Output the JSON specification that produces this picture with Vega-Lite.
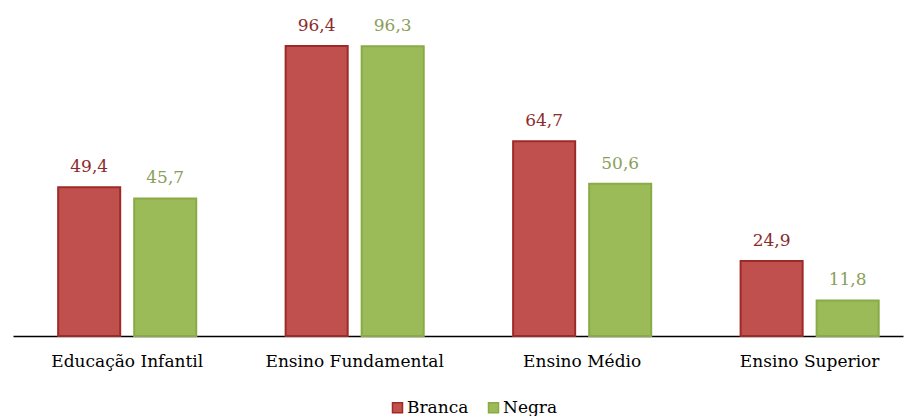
{
  "$schema": "https://vega.github.io/schema/vega-lite/v6.json",
  "width": 890,
  "height": 331,
  "autosize": {"type": "none"},
  "padding": {"left": 13, "top": 5, "right": 9, "bottom": 80},
  "background": "white",
  "data": {"values": [
    {"nivel": "Educação Infantil", "grupo": "Branca", "valor": 49.4, "rotulo": "49,4"},
    {"nivel": "Educação Infantil", "grupo": "Negra", "valor": 45.7, "rotulo": "45,7"},
    {"nivel": "Ensino Fundamental", "grupo": "Branca", "valor": 96.4, "rotulo": "96,4"},
    {"nivel": "Ensino Fundamental", "grupo": "Negra", "valor": 96.3, "rotulo": "96,3"},
    {"nivel": "Ensino Médio", "grupo": "Branca", "valor": 64.7, "rotulo": "64,7"},
    {"nivel": "Ensino Médio", "grupo": "Negra", "valor": 50.6, "rotulo": "50,6"},
    {"nivel": "Ensino Superior", "grupo": "Branca", "valor": 24.9, "rotulo": "24,9"},
    {"nivel": "Ensino Superior", "grupo": "Negra", "valor": 11.8, "rotulo": "11,8"}
  ]},
  "encoding": {
    "x": {
      "field": "nivel", "type": "nominal", "sort": null, "title": null,
      "scale": {"paddingInner": 0.393, "paddingOuter": 0.1527, "align": 0.65},
      "axis": {
        "labelAngle": 0, "ticks": false, "domainColor": "#000000", "domainWidth": 1.5,
        "labelFont": "DejaVu Serif", "labelFontSize": 17, "labelColor": "#000000",
        "labelPadding": 17, "grid": false
      }
    },
    "xOffset": {"field": "grupo", "type": "nominal", "scale": {"paddingInner": 0.184, "paddingOuter": 0}},
    "y": {
      "field": "valor", "type": "quantitative",
      "scale": {"domain": [0, 110], "nice": false},
      "axis": null
    }
  },
  "layer": [
    {
      "mark": {"type": "bar", "strokeWidth": 2},
      "encoding": {
        "color": {
          "field": "grupo", "type": "nominal",
          "scale": {"domain": ["Branca", "Negra"], "range": ["#C0504D", "#9BBB59"]},
          "legend": {
            "orient": "none", "direction": "horizontal", "legendX": 376, "legendY": 394,
            "title": null, "symbolType": "square", "symbolSize": 100,
            "symbolStrokeWidth": 1.5, "labelFont": "DejaVu Serif", "labelFontSize": 17,
            "labelColor": "#000000", "columnPadding": 16, "labelOffset": 1
          }
        },
        "stroke": {
          "field": "grupo", "type": "nominal",
          "scale": {"domain": ["Branca", "Negra"], "range": ["#9E2A27", "#8AAA48"]},
          "legend": null
        }
      }
    },
    {
      "mark": {"type": "text", "dy": -15, "font": "DejaVu Serif", "fontSize": 17, "baseline": "alphabetic"},
      "encoding": {
        "text": {"field": "rotulo"},
        "color": {
          "field": "grupo", "type": "nominal",
          "scale": {"domain": ["Branca", "Negra"], "range": ["#C0504D", "#9BBB59"]},
          "legend": null
        },
        "fill": {
          "field": "grupo", "type": "nominal",
          "scale": {"domain": ["Branca", "Negra"], "range": ["#8B2B2B", "#8A9E5A"]},
          "legend": null
        }
      }
    }
  ],
  "config": {"view": {"stroke": null}}
}
